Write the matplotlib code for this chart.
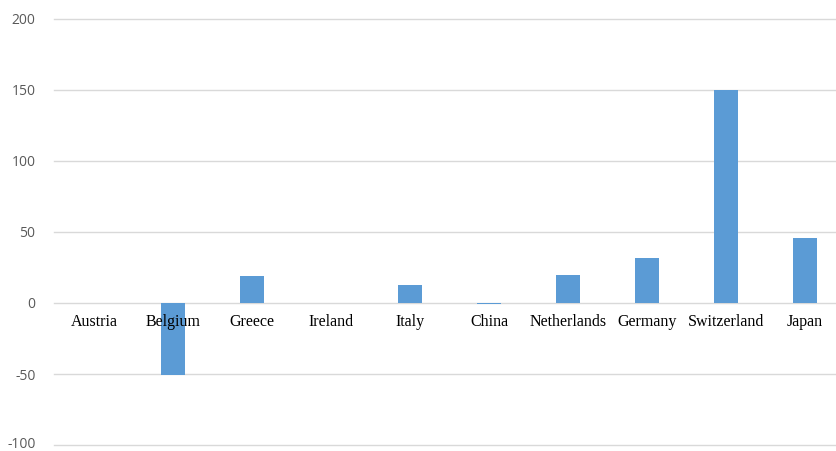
import matplotlib
matplotlib.use("Agg")
import matplotlib.pyplot as plt
import numpy as np

countries = ["Austria", "Belgium", "Greece", "Ireland", "Italy",
             "China", "Netherlands", "Germany", "Switzerland", "Japan"]
values = [0, -51, 19, 0, 13, -1, 20, 32, 150, 46]
y_ticks = [-100, -50, 0, 50, 100, 150, 200]

W, H = 836, 451
fig = plt.figure(figsize=(W / 100, H / 100), dpi=100)
left, right = 54.5, 844.5
bottom, top = H - 445, H - 19
ax = fig.add_axes([left / W, bottom / H, (right - left) / W, (top - bottom) / H])

x = np.arange(len(countries))
ax.bar(x, values, width=0.31, color="#5B9BD5", zorder=2)

ax.set_xlim(-0.5, len(countries) - 0.5)
ax.set_ylim(y_ticks[0], y_ticks[-1])
ax.set_yticks(y_ticks)
ax.set_yticklabels([])
ax.tick_params(axis="y", length=0)
ax.set_xticks([])
ax.grid(axis="y", color="#d9d9d9", linewidth=1.0, zorder=0)
for gl in ax.get_ygridlines():
    gl.set_clip_on(False)
for s in ax.spines.values():
    s.set_visible(False)

# value labels to the left of each gridline; the lowest one is kept inside the canvas
ytrans = ax.get_yaxis_transform()
for t in y_ticks:
    dy = 0 if t == y_ticks[0] else -2
    ax.annotate(str(t), (0, t), xycoords=ytrans, xytext=(-19, dy),
                textcoords="offset pixels", ha="right", va="center",
                fontsize=10, color="#595959",
                family=["Open Sans", "DejaVu Sans"], annotation_clip=False)

# category names sit just under the zero line
for xi, name in zip(x, countries):
    ax.annotate(name, (xi, 0), xytext=(0, -14), textcoords="offset points",
                ha="center", va="center", fontsize=11.5,
                family=["Liberation Serif", "DejaVu Serif"], color="#000000",
                zorder=3, annotation_clip=False)

fig.savefig("out.png", dpi=100)
